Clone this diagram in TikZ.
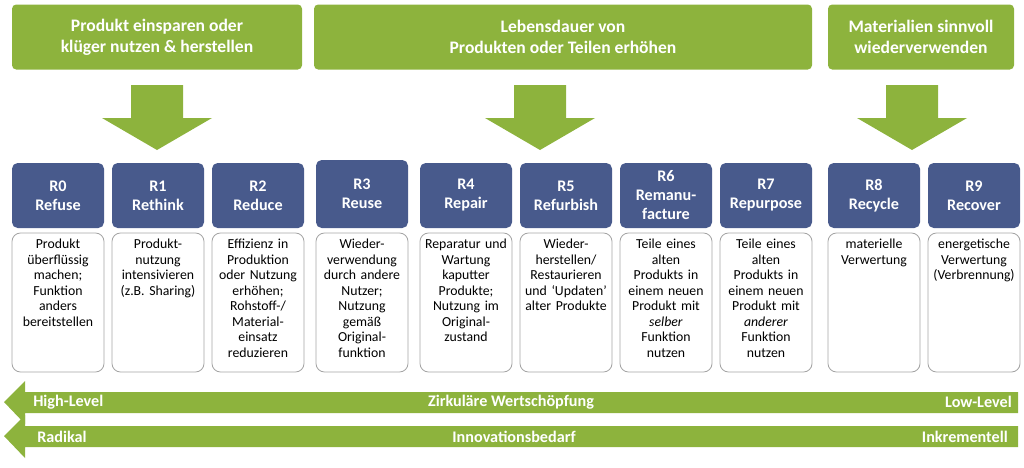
\documentclass[tikz,border=0pt]{standalone}
\usepackage{fontspec}
\setmainfont{Carlito}
\begin{document}
\begin{tikzpicture}[x=0.025cm,y=-0.025cm,
 green/.style={fill=grn,draw=none,rounded corners=3},
 hdr/.style={green,text=white,font=\fontsize{12.5}{15}\selectfont\bfseries,align=center,inner sep=0},
 rbox/.style={fill=blu,rounded corners=4},
 rlab/.style={text=white,font=\fontsize{11.5}{13.5}\selectfont\bfseries,align=center},
 wbox/.style={draw=gray!70,fill=white,rounded corners=6,line width=0.6pt},
 body/.style={font=\fontsize{9.8}{11}\selectfont,align=center,text width=2.25cm,anchor=north,inner sep=0},
 dn/.style={fill=grn,draw=none},
 band/.style={fill=grn,draw=none},
 btxt/.style={text=white,font=\fontsize{11.5}{13}\selectfont\bfseries,inner sep=0}]
\definecolor{grn}{HTML}{8DB33D}
\definecolor{blu}{HTML}{485A8C}
\useasboundingbox (0,0) rectangle (1024,467);
% headers
\node[hdr,minimum width=290*0.025cm,minimum height=65*0.025cm] (h1) at (157,37) {Produkt einsparen oder\\klüger nutzen \& herstellen};
\node[hdr,minimum width=498*0.025cm,minimum height=65*0.025cm] (h2) at (563,37) {Lebensdauer von\\Produkten oder Teilen erhöhen};
\node[hdr,minimum width=186*0.025cm,minimum height=65*0.025cm] (h3) at (921,37) {Materialien sinnvoll\\wiederverwenden};
% down arrows
\foreach \c/\n in {157/a1,540/a2,912/a3}{
 \fill[dn] (\c-26,85) -- (\c+26,85) -- (\c+26,118) -- (\c+55,118) -- (\c,150) -- (\c-55,118) -- (\c-26,118) -- cycle;
}
% R boxes
\foreach \x/\t/\lab/\txt in {
 12/163/{R0\\Refuse}/{Produkt\\überflüssig\\machen;\\Funktion\\anders\\bereitstellen},
 112/163/{R1\\Rethink}/{Produkt-\\nutzung\\intensivieren\\(z.B. Sharing)},
 212/163/{R2\\Reduce}/{Effizienz in\\Produktion\\oder Nutzung\\erhöhen;\\Rohstoff-/\\Material-\\einsatz\\reduzieren},
 316/160/{R3\\Reuse}/{Wieder-\\verwendung\\durch andere\\Nutzer;\\Nutzung\\gemäß\\Original-\\funktion},
 420/163/{R4\\Repair}/{Reparatur und\\Wartung\\kaputter\\Produkte;\\Nutzung im\\Original-\\zustand},
 520/163/{R5\\Refurbish}/{Wieder-\\herstellen/\\Restaurieren\\und `Updaten'\\alter Produkte},
 620/163/{R6\\Remanu-\\facture}/{Teile eines\\alten\\Produkts in\\einem neuen\\Produkt mit\\\textit{selber}\\Funktion\\nutzen},
 720/163/{R7\\Repurpose}/{Teile eines\\alten\\Produkts in\\einem neuen\\Produkt mit\\\textit{anderer}\\Funktion\\nutzen},
 828/163/{R8\\Recycle}/{materielle\\Verwertung},
 928/163/{R9\\Recover}/{energetische\\Verwertung\\(Verbrennung)}}{
 \path[rbox] (\x,\t) rectangle (\x+92,228);
 \node[rlab] at (\x+46,{(\t+228)/2}) {\lab};
 \path[wbox] (\x,233) rectangle (\x+92,372);
 \node[body] at (\x+46,239) {\txt};
}
% bands
\fill[band] (25,392) -- (1018,392) -- (1018,413) -- (25,413) -- (25,424) -- (4,402) -- (25,381) -- cycle;
\fill[band] (25,426) -- (1018,426) -- (1018,447) -- (25,447) -- (25,458) -- (4,436) -- (25,415) -- cycle;
\node[btxt,anchor=west] (hl) at (33,402) {High-Level};
\node[btxt] (zw) at (511,402) {Zirkuläre Wertschöpfung};
\node[btxt,anchor=east] (ll) at (1012,402) {Low-Level};
\node[btxt,anchor=west] (ra) at (37,437) {Radikal};
\node[btxt] (ib) at (514,437) {Innovationsbedarf};
\node[btxt,anchor=east] (ik) at (1008,437) {Inkrementell};
\end{tikzpicture}
\end{document}
